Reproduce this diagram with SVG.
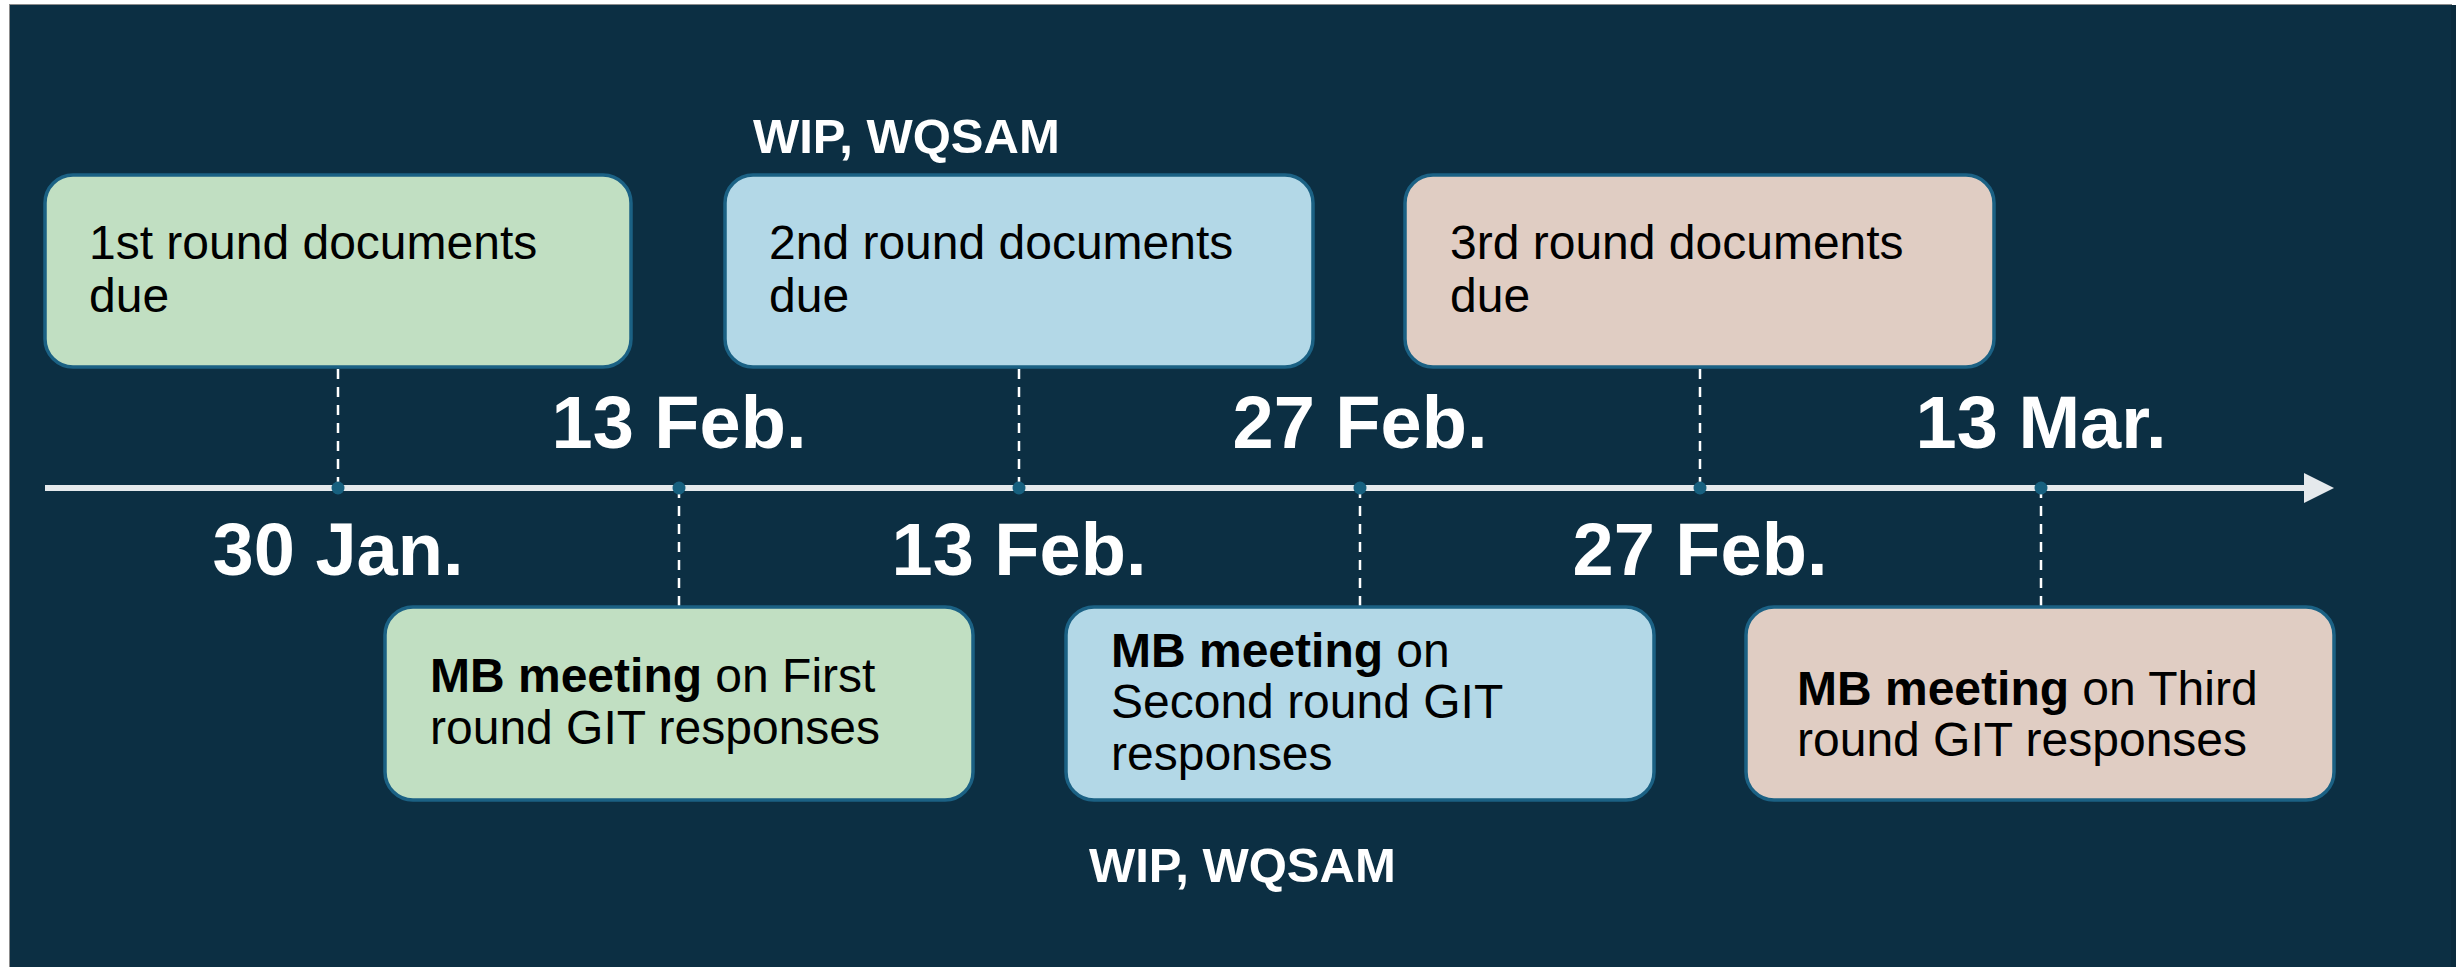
<svg xmlns="http://www.w3.org/2000/svg" width="2456" height="967" viewBox="0 0 2456 967">
<style>
.bg{fill:#0c2f43}
.box{stroke:#1b6184;stroke-width:3.5}
.g{fill:#c1dfc2}
.b{fill:#b3d8e7}
.t{fill:#e0cdc3}
.txt{font-family:"Liberation Sans",Arial,sans-serif;font-size:48px;fill:#000}
.bold{font-weight:bold}
.date{font-family:"Liberation Sans",Arial,sans-serif;font-size:74px;font-weight:bold;fill:#fff;text-anchor:middle}
.wip{font-family:"Liberation Sans",Arial,sans-serif;font-size:49px;font-weight:bold;fill:#fff}
.dash{stroke:#fff;stroke-width:2.5;stroke-dasharray:10 8;fill:none}
.dot{fill:#17607f}
</style>
<defs>
<marker id="arrow" markerWidth="30" markerHeight="30" refX="0" refY="15" orient="auto" markerUnits="userSpaceOnUse">
<path d="M0,0 L30,15 L0,30 Z" fill="#e5e9ec"/>
</marker>
</defs>
<rect x="0" y="0" width="2456" height="967" fill="#ffffff"/>
<rect class="bg" x="9.5" y="4.5" width="2442" height="970" stroke="#8c8c8c" stroke-width="1"/>
<rect x="2451" y="5" width="5" height="962" fill="#0a2a3c"/>

<g id="connectors">
<line x1="45" y1="488" x2="2304" y2="488" stroke="#e5e9ec" stroke-width="6" marker-end="url(#arrow)"/>
<line class="dash" x1="338" y1="369" x2="338" y2="488"/>
<line class="dash" x1="679" y1="488" x2="679" y2="606"/>
<line class="dash" x1="1019" y1="369" x2="1019" y2="488"/>
<line class="dash" x1="1360" y1="488" x2="1360" y2="606"/>
<line class="dash" x1="1700" y1="369" x2="1700" y2="488"/>
<line class="dash" x1="2041" y1="488" x2="2041" y2="606"/>
<circle class="dot" cx="338" cy="488" r="6.5"/>
<circle class="dot" cx="679" cy="488" r="6.5"/>
<circle class="dot" cx="1019" cy="488" r="6.5"/>
<circle class="dot" cx="1360" cy="488" r="6.5"/>
<circle class="dot" cx="1700" cy="488" r="6.5"/>
<circle class="dot" cx="2041" cy="488" r="6.5"/>
</g>

<g id="labels">
<text class="wip" x="753" y="153">WIP, WQSAM</text>
<text class="wip" x="1089" y="882">WIP, WQSAM</text>
<text class="date" x="679" y="448">13 Feb.</text>
<text class="date" x="1360" y="448">27 Feb.</text>
<text class="date" x="2041" y="448">13 Mar.</text>
<text class="date" x="338" y="575">30 Jan.</text>
<text class="date" x="1019" y="575">13 Feb.</text>
<text class="date" x="1700" y="575">27 Feb.</text>
</g>

<g id="box1">
<rect class="box g" x="45" y="175" width="586" height="192" rx="28"/>
<text class="txt" x="89" y="259">1st round documents</text>
<text class="txt" x="89" y="312">due</text>
</g>
<g id="box2">
<rect class="box b" x="725" y="175" width="588" height="192" rx="28"/>
<text class="txt" x="769" y="259">2nd round documents</text>
<text class="txt" x="769" y="312">due</text>
</g>
<g id="box3">
<rect class="box t" x="1405" y="175" width="589" height="192" rx="28"/>
<text class="txt" x="1450" y="259">3rd round documents</text>
<text class="txt" x="1450" y="312">due</text>
</g>
<g id="box4">
<rect class="box g" x="385" y="607" width="588" height="193" rx="28"/>
<text class="txt" x="430" y="692"><tspan class="bold">MB meeting</tspan> on First</text>
<text class="txt" x="430" y="744">round GIT responses</text>
</g>
<g id="box5">
<rect class="box b" x="1066" y="607" width="588" height="193" rx="28"/>
<text class="txt" x="1111" y="667"><tspan class="bold">MB meeting</tspan> on</text>
<text class="txt" x="1111" y="718">Second round GIT</text>
<text class="txt" x="1111" y="770">responses</text>
</g>
<g id="box6">
<rect class="box t" x="1746" y="607" width="588" height="193" rx="28"/>
<text class="txt" x="1797" y="705"><tspan class="bold">MB meeting</tspan> on Third</text>
<text class="txt" x="1797" y="756">round GIT responses</text>
</g>
</svg>
